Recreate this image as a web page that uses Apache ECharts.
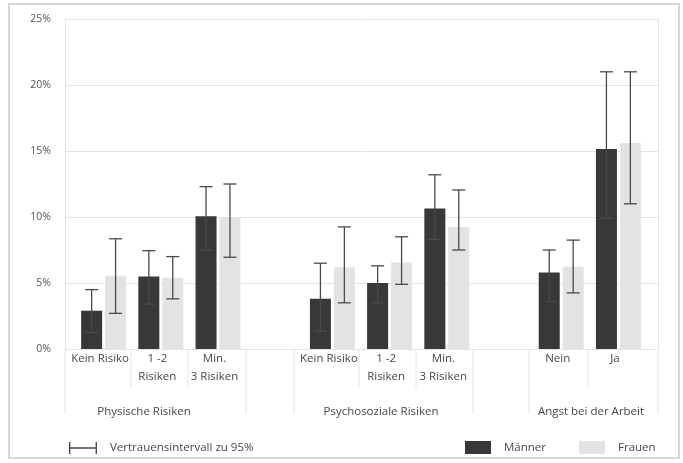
<!DOCTYPE html>
<html>
<head>
<meta charset="utf-8">
<script src="https://cdn.jsdelivr.net/npm/echarts@6/dist/echarts.min.js"></script>
<style>html,body{margin:0;padding:0;background:#fff}#c{width:683px;height:463px}</style>
</head>
<body>
<div id="c"></div>
<script>
var categories = ['Kein Risiko', '1 -2\nRisiken', 'Min.\n3 Risiken', '', 'Kein Risiko', '1 -2\nRisiken', 'Min.\n3 Risiken', '', 'Nein', 'Ja'];
var groupLabels = ['Physische Risiken', 'Psychosoziale Risiken', 'Angst bei der Arbeit'];
var maennerValues = [2.9, 5.5, 10.05, null, 3.8, 5.0, 10.65, null, 5.8, 15.15];
var frauenValues  = [5.55, 5.4, 9.95, null, 6.2, 6.55, 9.25, null, 6.25, 15.6];
var maennerLow  = [1.25, 3.4, 7.5, null, 1.35, 3.5, 8.3, null, 3.6, 9.9];
var maennerHigh = [4.5, 7.45, 12.3, null, 6.5, 6.3, 13.2, null, 7.5, 21.0];
var frauenLow   = [2.7, 3.8, 6.95, null, 3.5, 4.9, 7.5, null, 4.25, 11.0];
var frauenHigh  = [8.35, 7.0, 12.5, null, 9.25, 8.5, 12.05, null, 8.25, 21.0];
var yTicks = [0, 5, 10, 15, 20, 25];

var FONT = '"Open Sans", sans-serif';
var TXT = '#474747';
var GRIDC = '#e4e4e4';
var FS = 11.5;
var BARW = 21, GAPR = 0.14;

var ciData = [];
categories.forEach(function (c, i) {
  if (maennerLow[i] != null) ciData.push([i, maennerLow[i], maennerHigh[i], frauenLow[i], frauenHigh[i]]);
});

function renderCI(params, api) {
  var idx = api.value(0);
  var cx = api.coord([idx, 0])[0];
  var off = (BARW + BARW * GAPR) / 2;
  var cap = 6.5;
  var children = [];
  [[-1, 1, 2], [1, 3, 4]].forEach(function (s) {
    var x = cx + s[0] * off;
    var yl = api.coord([idx, api.value(s[1])])[1];
    var yh = api.coord([idx, api.value(s[2])])[1];
    var st = { stroke: '#4a4a4a', lineWidth: 1.3 };
    children.push({ type: 'line', shape: { x1: x, y1: yl, x2: x, y2: yh }, style: st });
    children.push({ type: 'line', shape: { x1: x - cap, y1: yh, x2: x + cap, y2: yh }, style: st });
    children.push({ type: 'line', shape: { x1: x - cap, y1: yl, x2: x + cap, y2: yl }, style: st });
  });
  return { type: 'group', children: children };
}

var longSep = [65, 246, 294, 473, 529, 658];
var shortSep = [131, 188, 359, 416, 588];
var graphics = [
  { type: 'rect', shape: { x: 9, y: 4, width: 670, height: 454 }, style: { fill: 'none', stroke: '#d6d6d6', lineWidth: 2 }, z: -1 }
];
longSep.forEach(function (x) {
  graphics.push({ type: 'line', shape: { x1: x, y1: 349, x2: x, y2: 414 }, style: { stroke: GRIDC, lineWidth: 1 } });
});
shortSep.forEach(function (x) {
  graphics.push({ type: 'line', shape: { x1: x, y1: 349, x2: x, y2: 388 }, style: { stroke: GRIDC, lineWidth: 1 } });
});
var groupX = [144, 381, 591];
groupLabels.forEach(function (g, i) {
  graphics.push({ type: 'text', x: groupX[i], y: 412, style: { text: g, fill: TXT, font: FS + 'px ' + FONT, align: 'center', verticalAlign: 'middle' } });
});

var chart = echarts.init(document.getElementById('c'));
chart.setOption({
  animation: false,
  backgroundColor: '#fff',
  textStyle: { fontFamily: FONT },
  grid: [
    { left: 65, right: 25, top: 19, bottom: 114 },
    { left: 75, right: 36, top: 19, bottom: 114 }
  ],
  xAxis: [
    { type: 'value', gridIndex: 0, min: 0, max: 1, interval: 1,
      axisLabel: { show: false }, axisTick: { show: false }, axisLine: { show: false },
      splitLine: { show: true, lineStyle: { color: GRIDC, width: 1 } } },
    { type: 'category', gridIndex: 1, data: categories,
      axisLine: { show: false }, axisTick: { show: false },
      axisLabel: { interval: 0, margin: 1, color: TXT, fontSize: FS, lineHeight: 18, fontFamily: FONT, padding: [0, 7, 0, 0] } }
  ],
  yAxis: [
    { type: 'value', gridIndex: 0, min: 0, max: 25, interval: 5,
      axisLabel: { formatter: function (v) { return yTicks.indexOf(v) >= 0 ? v + '%' : ''; }, color: '#555', fontSize: 10.5, margin: 14, fontFamily: FONT },
      axisLine: { show: false }, axisTick: { show: false },
      splitLine: { lineStyle: { color: GRIDC, width: 1 } } },
    { type: 'value', gridIndex: 1, min: 0, max: 25, interval: 5, show: false, splitLine: { show: false } }
  ],
  legend: [
    { left: 64, top: 437, itemWidth: 28, itemHeight: 12,
      data: [{ name: 'Vertrauensintervall zu 95%', icon: 'path://M0,0h1.4v12h-1.4z M0,5.3h28v1.4h-28z M26.6,0h1.4v12h-1.4z' }],
      textStyle: { color: TXT, fontSize: FS, fontFamily: FONT, padding: [0, 0, 0, 8] } },
    { left: 460, top: 436, itemWidth: 26, itemHeight: 13, itemGap: 33,
      data: [{ name: 'Männer', icon: 'rect' }, { name: 'Frauen', icon: 'rect' }],
      textStyle: { color: TXT, fontSize: FS, fontFamily: FONT, padding: [0, 0, 0, 8] } }
  ],
  graphic: graphics,
  series: [
    { name: 'Männer', type: 'bar', xAxisIndex: 1, yAxisIndex: 1, data: maennerValues,
      barWidth: BARW, barGap: (GAPR * 100) + '%', itemStyle: { color: '#383838' } },
    { name: 'Frauen', type: 'bar', xAxisIndex: 1, yAxisIndex: 1, data: frauenValues,
      barWidth: BARW, barGap: (GAPR * 100) + '%', itemStyle: { color: '#e3e3e3' } },
    { name: 'Vertrauensintervall zu 95%', type: 'custom', xAxisIndex: 1, yAxisIndex: 1,
      data: ciData, renderItem: renderCI, itemStyle: { color: '#4a4a4a' }, z: 5,
      encode: { x: 0, y: [1, 2, 3, 4] } }
  ]
});
</script>
</body>
</html>
